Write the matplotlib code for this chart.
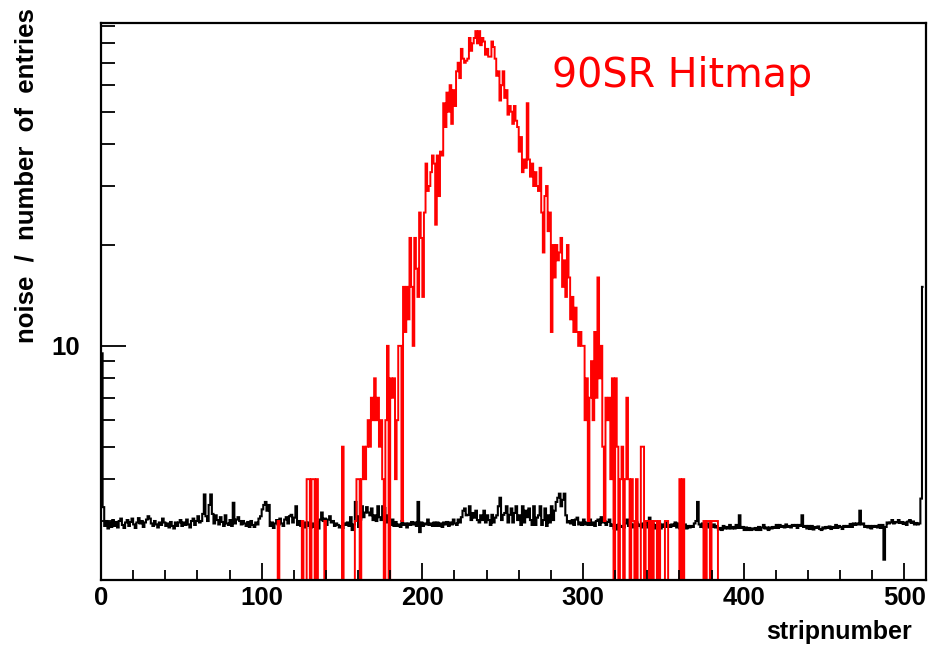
import numpy as np
import matplotlib
matplotlib.use("Agg")
import matplotlib.pyplot as plt
from matplotlib.ticker import MultipleLocator, NullFormatter

# ---------------- data ----------------
# noise per strip (strips 0..511)
noise = [
    9.5, 3.3, 2.9, 3.0, 2.85, 2.97, 2.88, 3.02, 2.9, 2.98, 2.87, 3.0, 3.05, 2.92, 2.86, 2.97,
    3.02, 2.9, 2.98, 3.05, 2.93, 2.86, 2.97, 3.06, 2.95, 3.0, 2.88, 2.97, 3.03, 3.1, 3.05, 2.95,
    2.9, 3.0, 2.93, 2.87, 2.97, 2.92, 3.05, 2.97, 2.9, 2.95, 2.87, 2.98, 2.9, 2.85, 2.97, 2.9,
    2.97, 3.02, 2.9, 2.97, 2.92, 3.03, 2.93, 2.87, 3.0, 3.05, 2.92, 3.0, 3.1, 2.97, 3.0, 3.15,
    3.6, 3.1, 3.0, 3.35, 3.6, 3.15, 2.95, 3.12, 3.02, 2.93, 3.08, 2.98, 2.9, 3.12, 2.95, 2.92,
    3.02, 2.9, 3.4, 2.95, 3.03, 3.08, 3.0, 2.93, 3.0, 2.95, 2.9, 2.98, 2.88, 3.0, 2.92, 2.88,
    2.97, 2.93, 3.05, 3.1, 3.25, 3.35, 3.42, 3.22, 3.35, 2.9, 2.97, 2.86, 2.95, 3.02, 2.92, 3.05,
    2.95, 2.9, 3.03, 3.08, 2.95, 3.1, 3.13, 2.97, 3.07, 3.32, 2.92, 3.0, 2.9, 2.95, 2.87, 2.97,
    2.9, 2.97, 2.86, 2.95, 2.88, 2.93, 2.97, 2.85, 3.03, 3.18, 3.0, 3.05, 2.92, 3.03, 3.1, 2.97,
    3.0, 2.9, 2.95, 2.92, 2.87, 2.9, 2.86, 2.95, 2.92, 2.97, 2.9, 3.08, 2.82, 2.93, 3.42, 3.1,
    2.88, 3.03, 3.32, 3.08, 3.18, 3.3, 3.18, 3.12, 3.27, 3.02, 3.12, 3.0, 3.32, 3.08, 3.02, 3.32,
    3.28, 3.12, 2.97, 3.0, 2.92, 3.03, 2.9, 2.98, 2.9, 2.93, 2.88, 3.0, 2.92, 2.95, 2.87, 2.95,
    2.92, 2.98, 2.93, 2.97, 2.9, 3.42, 2.78, 2.97, 2.9, 2.95, 2.93, 3.03, 2.92, 2.95, 2.9, 2.97,
    2.9, 2.97, 2.9, 2.95, 2.88, 2.97, 2.93, 2.98, 2.9, 2.97, 2.93, 3.03, 2.95, 2.92, 3.03, 2.97,
    3.08, 3.22, 3.27, 3.12, 3.13, 3.32, 3.02, 3.17, 3.07, 3.22, 3.02, 2.97, 3.12, 3.02, 3.22, 2.97,
    3.12, 3.02, 2.92, 3.13, 2.97, 3.07, 3.12, 3.32, 3.52, 3.02, 3.13, 3.17, 3.32, 2.97, 3.13, 3.27,
    2.97, 3.17, 3.32, 3.02, 3.12, 2.92, 3.32, 2.97, 3.22, 3.08, 3.27, 3.02, 2.92, 3.32, 2.92, 3.07,
    3.12, 3.32, 2.92, 3.02, 3.27, 2.9, 3.12, 2.97, 3.32, 3.02, 3.22, 3.42, 3.52, 3.62, 3.32, 3.47,
    3.62, 3.12, 2.97, 3.0, 2.95, 3.02, 2.92, 3.03, 3.07, 2.93, 2.97, 2.92, 3.03, 2.93, 2.97, 2.92,
    3.03, 2.92, 2.97, 2.9, 3.0, 3.03, 2.92, 3.08, 2.97, 3.0, 2.92, 2.98, 3.03, 2.9, 2.93, 2.85,
    2.92, 2.83, 2.93, 2.88, 2.9, 2.87, 2.95, 3.03, 2.9, 2.97, 2.87, 2.93, 2.88, 2.97, 2.9, 2.93,
    2.87, 2.95, 2.92, 2.97, 2.87, 3.07, 2.88, 2.95, 2.85, 2.92, 2.9, 2.95, 2.85, 2.93, 2.88, 2.97,
    2.88, 2.92, 2.88, 2.93, 2.9, 2.97, 2.87, 2.95, 2.85, 2.92, 2.9, 2.93, 2.85, 2.9, 2.87, 2.9,
    2.88, 2.95, 3.0, 3.42, 2.93, 2.88, 2.95, 2.87, 2.9, 2.95, 2.87, 2.9, 2.88, 2.93, 2.87, 2.9,
    2.83, 2.86, 2.82, 2.9, 2.85, 2.88, 2.85, 2.92, 2.85, 2.88, 2.85, 2.92, 2.86, 3.12, 2.86, 2.88,
    2.82, 2.87, 2.82, 2.86, 2.82, 2.85, 2.83, 2.86, 2.82, 2.88, 2.82, 2.87, 2.92, 2.85, 2.87, 2.82,
    2.87, 2.85, 2.88, 2.86, 2.92, 2.86, 2.92, 2.88, 2.9, 2.87, 2.93, 2.88, 2.9, 2.87, 2.92, 2.9,
    2.92, 2.86, 2.92, 2.9, 3.12, 2.88, 2.9, 2.85, 2.9, 2.84, 2.9, 2.83, 2.88, 2.86, 2.89, 2.84,
    2.82, 2.87, 2.85, 2.88, 2.86, 2.89, 2.84, 2.88, 2.86, 2.92, 2.86, 2.9, 2.88, 2.84, 2.9, 2.88,
    2.9, 2.88, 2.94, 2.88, 2.95, 2.92, 2.95, 2.93, 3.22, 2.93, 2.95, 2.88, 2.9, 2.87, 2.9, 2.85,
    2.9, 2.88, 2.9, 2.87, 2.92, 2.86, 2.92, 2.3, 2.88, 2.97, 2.95, 2.97, 3.02, 2.95, 2.98, 2.97,
    3.02, 2.96, 2.98, 2.94, 2.97, 2.92, 2.99, 3.02, 2.96, 2.99, 2.93, 2.96, 2.93, 2.95, 3.5, 15.0,
]

# hitmap counts, starting at strip hit_start
hit_start = 108
hit_counts = [
    0, 0, 3, 0, 0, 0, 0, 0, 0, 0, 0, 0, 0, 0, 0, 0, 0,          # 108-124
    3, 0, 0, 4, 4, 0, 4, 4, 0, 4, 0, 0, 0, 0, 3,                # 125-139
    0, 0, 0, 0, 0, 0, 0, 0, 0, 0, 5, 0, 0, 0, 0, 0, 0, 0,       # 140-157
    3, 4, 4, 0, 4, 5, 4, 5, 6, 5, 7, 6, 8, 6, 7, 5, 6, 4,       # 158-175
    0, 6, 10, 0, 8, 7, 8, 4, 6, 10, 10, 3,                      # 176-187
    15, 11, 15, 12, 21, 15, 10, 21, 17, 14, 25, 21, 14, 25,     # 188-201
    35, 29, 30, 33, 37, 35, 23, 37, 28, 38, 37, 53, 45, 57,     # 202-215
    50, 60, 46, 58, 52, 66, 70, 63, 77, 72, 70, 71, 72, 83,     # 216-229
    76, 80, 83, 87, 80, 87, 79, 83, 81, 74, 77, 73, 73, 81,     # 230-243
    78, 72, 64, 66, 54, 60, 66, 55, 58, 49, 52, 50, 46, 52,     # 244-257
    47, 45, 38, 42, 33, 36, 34, 53, 36, 32, 35, 30, 33, 30,     # 258-271
    29, 34, 25, 19, 28, 30, 22, 25, 11, 20, 16, 20, 18, 19,     # 272-285
    21, 15, 18, 14, 20, 16, 12, 14, 11, 13, 11, 10, 11, 10,     # 286-299
    10, 6, 8, 3, 7, 9, 6, 11, 7, 16, 8, 10, 5, 3,               # 300-313
    7, 6, 7, 4, 8, 0, 8, 5, 0, 4, 5, 0, 4, 7,                   # 314-327
    4, 0, 4, 3, 0, 4, 0, 0, 5, 5, 0, 3, 3, 0,                   # 328-341
    3, 0, 3, 3, 0, 3, 0, 0, 0, 3, 3, 0, 0, 0,                   # 342-355
    0, 0, 0, 0, 4, 0, 4, 0, 0, 0, 0, 0, 0, 0,                   # 356-369
    0, 0, 0, 0, 0, 3, 0, 3, 3, 0, 3, 3, 3, 3, 0, 0, 0,          # 370-386
]

# ---------------- figure ----------------
W, H = 934, 645
fig = plt.figure(figsize=(W / 100, H / 100), dpi=100)
ax = fig.add_axes([101 / W, 1 - 580 / H, (926 - 101) / W, (580 - 23) / H])

nstrips = len(noise)
edges = np.arange(nstrips + 1)
ax.stairs(noise, edges, baseline=None, color="black", linewidth=1.5)

hits = np.zeros(nstrips)
hits[hit_start:hit_start + len(hit_counts)] = hit_counts
hits_plot = np.where(hits > 0, hits, 0.1)
ax.stairs(hits_plot, edges, baseline=None, color="red", linewidth=1.4)

ax.set_yscale("log")
ax.set_ylim(2, 92)
ax.set_xlim(0, 513.5)

# ticks
ax.xaxis.set_major_locator(MultipleLocator(100))
ax.xaxis.set_minor_locator(MultipleLocator(20))
ax.set_yticks([10])
ax.set_yticklabels(["10"])
ax.set_yticks([3, 4, 5, 6, 7, 8, 9, 20, 30, 40, 50, 60, 70, 80, 90], minor=True)
ax.yaxis.set_minor_formatter(NullFormatter())

for lab in ax.get_xticklabels() + ax.get_yticklabels():
    lab.set_fontfamily("Liberation Sans")
    lab.set_fontweight("bold")
    lab.set_fontsize(18.5)

ax.tick_params(axis="x", which="major", direction="in", length=12, width=1.3,
               pad=4, top=False)
ax.tick_params(axis="x", which="minor", direction="in", length=7, width=1.3, top=False)
ax.tick_params(axis="y", which="major", direction="in", length=18, width=1.3,
               pad=15, right=False)
ax.tick_params(axis="y", which="minor", direction="in", length=10, width=1.3, right=False)

for sp in ax.spines.values():
    sp.set_linewidth(1.6)

# labels
fig.text(27 / W, 1 - 8 / H, "noise  /  number  of  entries", rotation=90,
         ha="center", va="top", family="Liberation Sans", weight="bold", fontsize=18.5)
fig.text(912 / W, 1 - 632 / H, "stripnumber", ha="right", va="center",
         family="Liberation Sans", weight="bold", fontsize=18)
fig.text(682 / W, 1 - 76 / H, "90SR Hitmap", ha="center", va="center",
         color="red", family="DejaVu Sans", fontsize=28.5)

fig.savefig("out.png", dpi=100)
